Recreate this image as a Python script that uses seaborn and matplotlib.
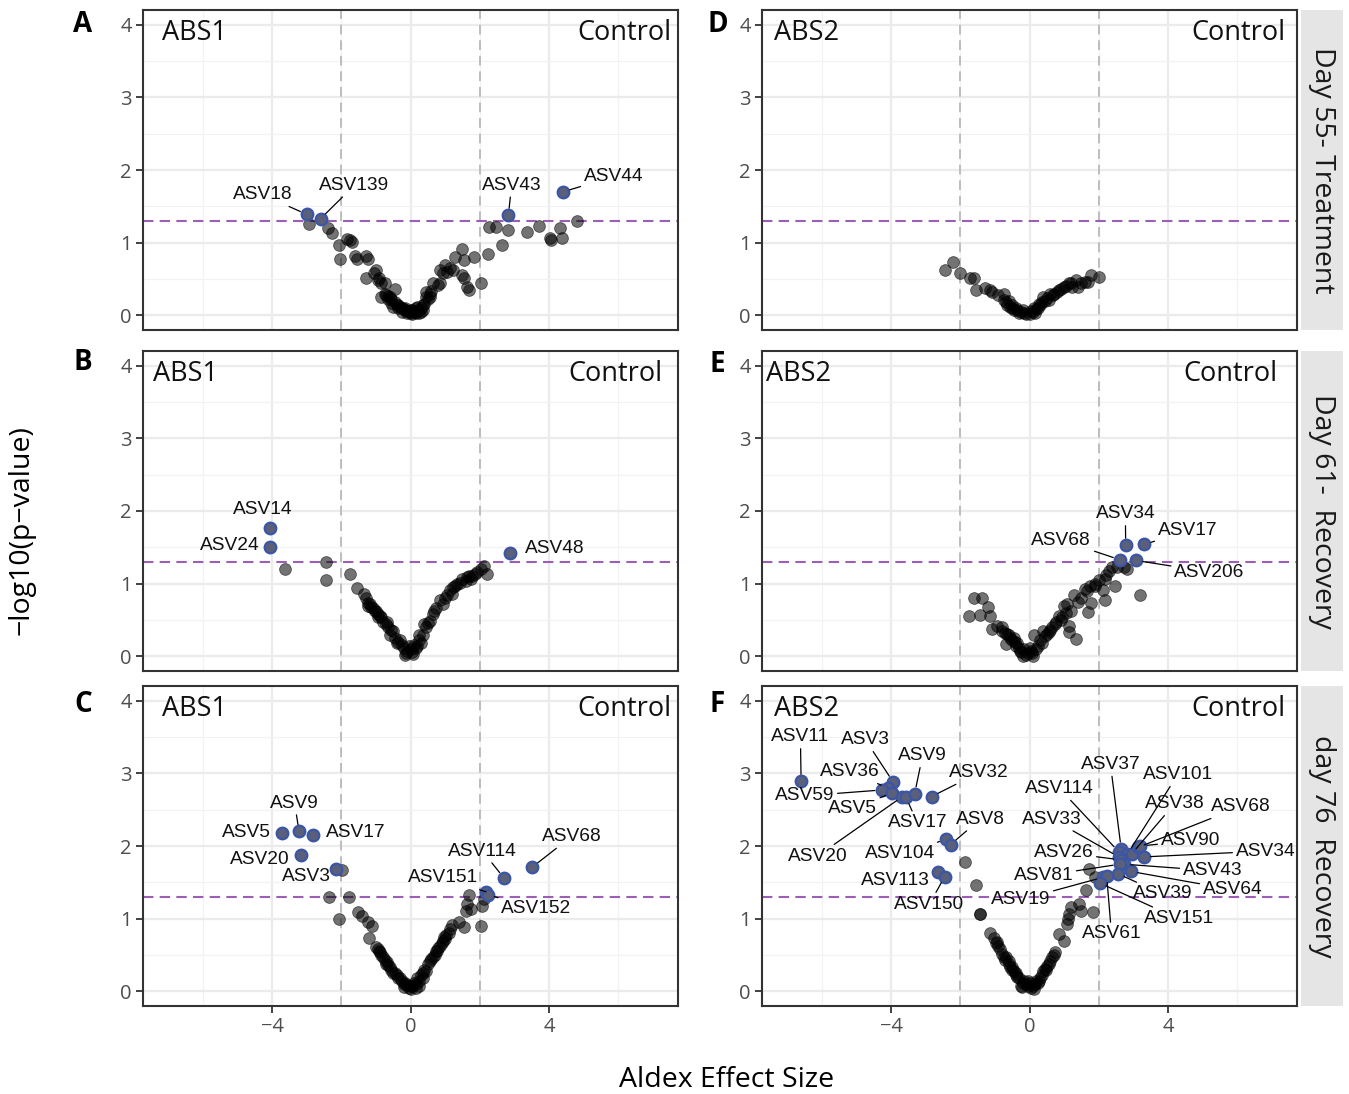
import matplotlib
matplotlib.use("Agg")
import matplotlib.pyplot as plt
import seaborn as sns
import pandas as pd

# ---- data: (effect size, -log10 p) ----
A_gray = [(-2.93, 1.26), (-2.38, 1.20), (-2.28, 1.13), (-2.08, 0.97), (-2.03, 0.77), (-1.84, 1.05),
          (-1.74, 1.04), (-1.69, 1.01), (-1.59, 0.82), (-1.54, 0.78), (-1.29, 0.82), (-1.24, 0.77),
          (-1.29, 0.51), (-0.99, 0.62), (-0.94, 0.49), (-0.84, 0.44), (-0.74, 0.44), (-0.45, 0.37),
          (-0.84, 0.26), (-0.64, 0.23), (-0.55, 0.17), (-0.40, 0.14), (-0.25, 0.10), (-0.15, 0.07),
          (-0.05, 0.05), (0.05, 0.07), (0.15, 0.10), (0.25, 0.07), (0.35, 0.14), (0.45, 0.26),
          (0.55, 0.30), (0.64, 0.44), (0.79, 0.42), (0.84, 0.44), (0.99, 0.69), (1.14, 0.65),
          (1.24, 0.62), (1.29, 0.81), (1.49, 0.92), (1.54, 0.76), (1.49, 0.56), (1.54, 0.51),
          (1.64, 0.39), (1.69, 0.35), (1.84, 0.81), (2.03, 0.44), (2.23, 0.85), (2.28, 1.22),
          (2.48, 1.22), (2.63, 0.97), (2.83, 1.18), (3.37, 1.15), (3.72, 1.23), (4.02, 1.07),
          (4.07, 1.04), (4.32, 1.20), (4.37, 1.07), (4.81, 1.30), (-0.75, 0.30), (-0.65, 0.27),
          (-0.55, 0.22), (-0.45, 0.19), (-0.35, 0.15), (-0.30, 0.12), (-0.20, 0.09), (-0.10, 0.06),
          (0.00, 0.03), (0.10, 0.05), (0.20, 0.06), (0.30, 0.10), (0.40, 0.16), (0.50, 0.22),
          (-0.50, 0.12), (-0.25, 0.05), (0.05, 0.02), (0.15, 0.03), (0.30, 0.05), (0.45, 0.32),
          (-0.15, 0.10), (0.20, 0.12), (-0.70, 0.28), (-0.60, 0.25), (-0.35, 0.10), (-0.10, 0.03),
          (0.00, 0.08), (0.25, 0.03), (0.35, 0.08), (0.55, 0.25), (0.60, 0.33), (0.85, 0.62),
          (0.95, 0.58), (1.05, 0.60), (-1.05, 0.58), (-0.90, 0.52)]
A_hits = [("ASV18", -3.00, 1.39), ("ASV139", -2.60, 1.33), ("ASV43", 2.83, 1.38), ("ASV44", 4.41, 1.70)]

B_gray = [(-3.64, 1.20), (-2.43, 1.30), (-2.45, 1.05), (-1.74, 1.14), (-1.54, 0.94), (-1.29, 0.81),
          (-1.24, 0.74), (-1.14, 0.68), (-1.04, 0.63), (-0.94, 0.58), (-0.84, 0.54), (-0.69, 0.47),
          (-0.64, 0.40), (-0.50, 0.35), (-0.45, 0.26), (-0.30, 0.22), (-0.20, 0.12), (-0.10, 0.08),
          (-0.15, 0.02), (0.05, 0.06), (0.15, 0.12), (0.25, 0.22), (0.35, 0.30), (0.45, 0.40),
          (0.55, 0.49), (0.69, 0.63), (0.84, 0.77), (0.99, 0.81), (1.14, 0.91), (1.24, 0.95),
          (1.34, 1.00), (1.49, 1.07), (1.64, 1.09), (1.79, 1.11), (2.03, 1.20), (2.13, 1.25),
          (2.21, 1.14), (-1.24, 0.69), (-1.09, 0.66), (-0.94, 0.54), (-0.79, 0.47), (-0.60, 0.30),
          (-0.40, 0.19), (-0.25, 0.16), (0.10, 0.16), (0.25, 0.30), (0.40, 0.44), (0.64, 0.59),
          (0.94, 0.72), (1.19, 0.86), (1.44, 1.01), (1.59, 1.04), (1.74, 1.06), (1.93, 1.16),
          (-1.35, 0.86), (-0.55, 0.37), (0.00, 0.10), (0.30, 0.18), (-0.05, 0.15), (-1.18, 0.72),
          (-1.00, 0.62), (-0.88, 0.56), (-0.72, 0.44), (-0.35, 0.20), (-0.12, 0.05), (0.08, 0.03),
          (0.20, 0.14), (0.50, 0.46), (0.75, 0.66), (1.05, 0.85), (1.30, 0.97), (1.70, 1.10),
          (1.85, 1.14)]
B_hits = [("ASV14", -4.06, 1.77), ("ASV24", -4.06, 1.51), ("ASV48", 2.88, 1.42)]

C_gray = [(-1.98, 1.67), (-2.35, 1.30), (-1.79, 1.30), (-2.06, 1.00), (-1.52, 1.09), (-1.39, 1.04),
          (-1.24, 0.95), (-1.12, 0.90), (-1.19, 0.74), (-0.99, 0.61), (-0.89, 0.54), (-0.79, 0.47),
          (-0.69, 0.40), (-0.60, 0.33), (-0.45, 0.26), (-0.30, 0.19), (-0.15, 0.12), (0.00, 0.08),
          (0.15, 0.10), (0.25, 0.15), (0.35, 0.19), (0.45, 0.28), (0.50, 0.38), (0.64, 0.47),
          (0.74, 0.56), (0.84, 0.63), (0.94, 0.70), (1.04, 0.77), (1.14, 0.86), (1.19, 0.91),
          (1.39, 0.95), (1.54, 0.88), (1.59, 1.11), (1.69, 1.32), (1.64, 1.20), (1.74, 1.13),
          (2.03, 0.90), (2.08, 1.18), (2.13, 1.27), (-0.95, 0.58), (-0.85, 0.50), (-0.75, 0.43),
          (-0.65, 0.36), (-0.55, 0.30), (-0.40, 0.22), (-0.25, 0.15), (-0.10, 0.09), (0.05, 0.07),
          (0.10, 0.12), (0.20, 0.18), (0.30, 0.22), (0.40, 0.30), (0.55, 0.42), (0.70, 0.50),
          (0.80, 0.60), (0.90, 0.66), (1.00, 0.72), (1.10, 0.80), (-0.20, 0.10), (0.15, 0.05),
          (-0.05, 0.05), (-0.92, 0.55), (-0.70, 0.38), (-0.50, 0.26), (-0.35, 0.18), (-0.18, 0.06),
          (0.02, 0.03), (0.25, 0.08), (0.35, 0.25), (0.60, 0.45), (0.78, 0.55), (0.98, 0.75)]
C_hits = [("ASV5", -3.72, 2.18), ("ASV9", -3.22, 2.20), ("ASV17", -2.81, 2.15), ("ASV20", -3.15, 1.88),
          ("ASV3", -2.16, 1.69), ("ASV114", 2.70, 1.56), ("ASV68", 3.52, 1.71), ("ASV151", 2.18, 1.37),
          ("ASV152", 2.23, 1.33)]

D_gray = [(-2.45, 0.62), (-2.20, 0.74), (-2.00, 0.58), (-1.72, 0.52), (-1.59, 0.51), (-1.56, 0.35),
          (-1.29, 0.38), (-1.14, 0.35), (-1.09, 0.32), (-0.74, 0.30), (-0.74, 0.21), (-0.64, 0.14),
          (-0.55, 0.12), (-0.45, 0.07), (-0.35, 0.07), (-0.25, 0.05), (-0.10, 0.02), (0.00, 0.02),
          (0.10, 0.05), (0.20, 0.09), (0.30, 0.14), (0.40, 0.25), (0.55, 0.21), (0.60, 0.30),
          (0.69, 0.28), (0.84, 0.35), (0.99, 0.39), (1.14, 0.44), (1.24, 0.39), (1.34, 0.49),
          (1.39, 0.39), (1.59, 0.46), (1.69, 0.46), (1.79, 0.56), (2.01, 0.53), (-0.90, 0.28),
          (-0.60, 0.20), (-0.50, 0.15), (-0.40, 0.10), (-0.20, 0.08), (0.15, 0.04), (0.25, 0.10),
          (0.35, 0.18), (0.45, 0.20), (0.70, 0.30), (0.90, 0.36), (1.05, 0.40), (-0.30, 0.04),
          (0.05, 0.06), (-0.68, 0.18), (-0.52, 0.10), (-0.15, 0.04), (0.12, 0.10), (0.28, 0.16),
          (0.50, 0.24), (0.80, 0.32), (1.20, 0.45), (1.48, 0.45)]
D_hits = []

E_gray = [(3.20, 0.85), (-1.59, 0.80), (-1.36, 0.80), (-1.74, 0.56), (-1.44, 0.57), (-1.19, 0.68),
          (-1.14, 0.56), (-1.09, 0.38), (-0.94, 0.42), (-0.79, 0.40), (-0.69, 0.17), (-0.64, 0.31),
          (-0.45, 0.26), (-0.35, 0.19), (-0.20, 0.01), (-0.15, 0.10), (0.00, 0.12), (0.10, 0.01),
          (0.13, 0.30), (0.25, 0.14), (0.40, 0.35), (0.50, 0.31), (0.64, 0.40), (0.74, 0.45),
          (0.84, 0.56), (0.94, 0.54), (0.99, 0.70), (1.09, 0.72), (1.14, 0.42), (1.14, 0.33),
          (1.29, 0.84), (1.34, 0.24), (1.59, 0.93), (1.69, 0.61), (1.74, 0.97), (1.79, 0.74),
          (1.88, 0.97), (2.13, 0.91), (2.18, 1.07), (2.18, 0.78), (2.48, 0.97), (2.38, 1.23),
          (2.53, 1.23), (2.73, 1.23), (2.83, 1.20), (-0.60, 0.30), (-0.50, 0.22), (-0.40, 0.15),
          (-0.30, 0.12), (-0.25, 0.06), (-0.05, 0.05), (0.05, 0.08), (0.20, 0.10), (0.30, 0.22),
          (0.45, 0.28), (0.60, 0.36), (0.90, 0.50), (1.20, 0.62), (1.50, 0.80), (1.65, 0.90),
          (2.00, 1.05), (2.20, 1.12), (2.30, 1.18), (-0.80, 0.35), (-0.70, 0.32), (-0.55, 0.26),
          (-0.42, 0.20), (-0.28, 0.08), (-0.10, 0.02), (0.08, 0.05), (0.35, 0.18), (0.55, 0.33),
          (0.78, 0.48), (1.05, 0.60), (1.40, 0.75), (1.90, 1.00)]
E_hits = [("ASV34", 2.78, 1.53), ("ASV17", 3.32, 1.54), ("ASV68", 2.61, 1.33), ("ASV206", 3.08, 1.32)]

F_gray = [(-1.86, 1.78), (-1.56, 1.47), (-1.44, 1.07), (-1.42, 1.06), (-1.14, 0.81), (-1.04, 0.74),
          (-0.94, 0.68), (-0.84, 0.58), (-0.79, 0.51), (-0.69, 0.47), (-0.60, 0.42), (-0.50, 0.33),
          (-0.40, 0.26), (-0.30, 0.19), (-0.25, 0.08), (-0.15, 0.15), (0.00, 0.12), (0.10, 0.08),
          (0.20, 0.15), (0.35, 0.22), (0.45, 0.31), (0.55, 0.38), (0.64, 0.47), (0.74, 0.54),
          (0.84, 0.79), (0.99, 0.70), (1.09, 0.93), (1.14, 1.07), (1.19, 1.16), (1.44, 1.20),
          (1.49, 1.11), (1.64, 1.39), (1.72, 1.69), (1.84, 1.09), (1.88, 1.57), (-0.70, 0.43),
          (-0.60, 0.38), (-0.55, 0.33), (-0.45, 0.28), (-0.35, 0.20), (-0.20, 0.12), (-0.10, 0.10),
          (0.05, 0.05), (0.15, 0.10), (0.25, 0.12), (0.40, 0.28), (0.50, 0.35), (0.60, 0.42),
          (-0.90, 0.62), (0.30, 0.18), (-0.05, 0.15), (-0.98, 0.66), (-0.75, 0.47), (-0.52, 0.30),
          (-0.38, 0.22), (-0.22, 0.06), (-0.05, 0.08), (0.12, 0.04), (0.28, 0.15), (0.48, 0.30),
          (0.70, 0.50), (1.12, 1.00)]
F_hits = [("ASV11", -6.60, 2.89), ("ASV3", -3.94, 2.88), ("ASV36", -4.10, 2.80), ("ASV59", -4.27, 2.77),
          ("ASV5", -3.97, 2.73), ("ASV20", -3.67, 2.68), ("ASV17", -3.57, 2.67), ("ASV9", -3.32, 2.72),
          ("ASV32", -2.83, 2.68), ("ASV104", -2.41, 2.09), ("ASV8", -2.28, 2.02), ("ASV113", -2.63, 1.64),
          ("ASV150", -2.45, 1.58), ("ASV37", 2.65, 1.96), ("ASV114", 2.58, 1.92), ("ASV101", 2.83, 1.89),
          ("ASV38", 2.95, 1.89), ("ASV68", 3.13, 1.98), ("ASV90", 3.20, 2.00), ("ASV34", 3.30, 1.85),
          ("ASV33", 2.58, 1.85), ("ASV26", 2.63, 1.81), ("ASV43", 2.73, 1.75), ("ASV81", 2.61, 1.75),
          ("ASV64", 2.93, 1.65), ("ASV39", 2.55, 1.62), ("ASV19", 2.13, 1.57), ("ASV61", 2.23, 1.59),
          ("ASV151", 2.03, 1.49)]

GROUPS = ["ABS1", "ABS1", "ABS1", "ABS2", "ABS2", "ABS2"]
DAYS = ["Day 55- Treatment", "Day 61-  Recovery", "day 76  Recovery"]
P_CUT = 1.301  # -log10(0.05)
EFFECT_CUT = 2

# ---- layout of the repelled labels (where the text sits) ----
LABEL_XY = {
    "A": {"ASV18": (-4.27, 1.66), "ASV139": (-1.62, 1.79), "ASV43": (2.92, 1.79), "ASV44": (5.87, 1.91)},
    "B": {"ASV14": (-4.28, 2.02), "ASV24": (-5.23, 1.52), "ASV48": (4.16, 1.48)},
    "C": {"ASV9": (-3.35, 2.59), "ASV5": (-4.74, 2.19), "ASV17": (-1.59, 2.19), "ASV20": (-4.36, 1.82),
          "ASV3": (-3.0, 1.58), "ASV114": (2.08, 1.93), "ASV68": (4.65, 2.13), "ASV151": (0.95, 1.56),
          "ASV152": (3.64, 1.14)},
    "D": {},
    "E": {"ASV34": (2.77, 1.96), "ASV17": (4.57, 1.73), "ASV68": (0.92, 1.60), "ASV206": (5.2, 1.16)},
    "F": {"ASV11": (-6.62, 3.50), "ASV3": (-4.74, 3.46), "ASV9": (-3.09, 3.24), "ASV36": (-5.20, 3.02),
          "ASV32": (-1.45, 3.01), "ASV59": (-6.50, 2.69), "ASV5": (-5.12, 2.51), "ASV17": (-3.24, 2.32),
          "ASV8": (-1.42, 2.37), "ASV20": (-6.13, 1.86), "ASV104": (-3.73, 1.89), "ASV113": (-3.87, 1.53),
          "ASV150": (-2.89, 1.20), "ASV37": (2.34, 3.12), "ASV101": (4.28, 2.98), "ASV114": (0.87, 2.79),
          "ASV38": (4.19, 2.58), "ASV68": (6.10, 2.54), "ASV33": (0.66, 2.37), "ASV90": (4.65, 2.07),
          "ASV26": (0.98, 1.91), "ASV34": (6.82, 1.93), "ASV81": (0.40, 1.59), "ASV43": (5.29, 1.66),
          "ASV19": (-0.26, 1.26), "ASV39": (3.84, 1.34), "ASV64": (5.87, 1.40), "ASV151": (4.31, 1.00),
          "ASV61": (2.37, 0.79)},
}
NO_SEGMENT = {"B": {"ASV14", "ASV24", "ASV48"}, "C": {"ASV5", "ASV17", "ASV20", "ASV3"}, "F": {"ASV113"}}

sns.set_theme(style="white")
plt.rcParams["font.family"] = ["Open Sans", "DejaVu Sans"]
LABEL_FONT = ["Liberation Sans", "DejaVu Sans"]

W, H = 1349, 1094
fig = plt.figure(figsize=(W / 100, H / 100), dpi=100)


def px_box(x0, y0, x1, y1):
    return [x0 / W, 1 - y1 / H, (x1 - x0) / W, (y1 - y0) / H]


COLS = [(143, 678), (762, 1297)]
ROWS = [(10, 330), (351, 671), (686, 1006)]
panels = [("A", A_gray, A_hits), ("B", B_gray, B_hits), ("C", C_gray, C_hits),
          ("D", D_gray, D_hits), ("E", E_gray, E_hits), ("F", F_gray, F_hits)]
letter_px = {"A": (83, 25), "B": (83, 363), "C": (83, 705),
             "D": (718, 25), "E": (717, 365), "F": (717, 705)}
abs_x = {"A": -6.24, "B": -6.5, "C": -6.24, "D": -6.45, "E": -6.68, "F": -6.45}
ctl_x = {"A": 6.18, "B": 5.92, "C": 6.18, "D": 6.04, "E": 5.81, "F": 6.04}

for i, (key, gray, hits) in enumerate(panels):
    col, row = i // 3, i % 3
    x0, x1 = COLS[col]
    y0, y1 = ROWS[row]
    ax = fig.add_axes(px_box(x0, y0, x1, y1))

    hit_df = pd.DataFrame(hits, columns=["asv", "effect", "logp"])
    all_df = pd.DataFrame(gray, columns=["effect", "logp"])
    all_df = pd.concat([all_df, hit_df[["effect", "logp"]]], ignore_index=True)

    ax.axvline(-EFFECT_CUT, color="#BDBDBD", lw=1.4, ls=(0, (5, 3)), zorder=1)
    ax.axvline(EFFECT_CUT, color="#BDBDBD", lw=1.4, ls=(0, (5, 3)), zorder=1)
    ax.axhline(P_CUT, color="#9B5FB5", lw=1.5, ls=(0, (5, 3)), zorder=1.5)

    sns.scatterplot(data=all_df, x="effect", y="logp", ax=ax, color="black", alpha=0.55,
                    s=72, edgecolor="black", linewidth=0.6, zorder=2, legend=False)
    if len(hit_df):
        sns.scatterplot(data=hit_df, x="effect", y="logp", ax=ax, color="#5a6079",
                        s=70, edgecolor="#3b56a6", linewidth=1.6, zorder=3, legend=False)
        skip = NO_SEGMENT.get(key, set())
        for _, r in hit_df.iterrows():
            lx, ly = LABEL_XY[key][r["asv"]]
            arrow = None if r["asv"] in skip else dict(arrowstyle="-", color="black", lw=0.9,
                                                        shrinkA=0, shrinkB=5)
            ax.annotate(r["asv"], xy=(r["effect"], r["logp"]), xytext=(lx, ly),
                        ha="center", va="center", fontsize=13.8, family=LABEL_FONT,
                        color="#111111", arrowprops=arrow, zorder=4)

    ax.text(abs_x[key], 3.88, GROUPS[i], ha="center", va="center", fontsize=19.5, color="#111111")
    ax.text(ctl_x[key], 3.88, "Control", ha="center", va="center", fontsize=19.5, color="#111111")

    ax.set_xlim(-7.73, 7.73)
    ax.set_ylim(-0.2, 4.2)
    ax.set_xticks([-4, 0, 4])
    ax.set_xticklabels(["\u22124", "0", "4"])
    ax.set_xticks([-6, -2, 2, 6], minor=True)
    ax.set_yticks([0, 1, 2, 3, 4])
    ax.set_yticks([0.5, 1.5, 2.5, 3.5], minor=True)
    ax.grid(which="major", color="#EBEBEB", lw=1.6)
    ax.grid(which="minor", color="#F2F2F2", lw=0.9)
    ax.set_axisbelow(True)
    ax.set(xlabel="", ylabel="")
    ax.tick_params(which="major", length=5, width=1.3, color="#333333", labelsize=14.5,
                   labelcolor="#4D4D4D", pad=3, left=True, bottom=True)
    ax.tick_params(which="minor", length=0)
    if row < 2:
        ax.tick_params(axis="x", which="major", length=0, labelbottom=False)
    for sp in ax.spines.values():
        sp.set_color("#333333")
        sp.set_linewidth(1.5)

    lx_px, ly_px = letter_px[key]
    fig.text(lx_px / W, 1 - ly_px / H, key, ha="center", va="center", fontsize=20,
             fontweight="bold", color="black")

    if col == 1:
        sax = fig.add_axes(px_box(1301, y0, 1343, y1))
        sax.set_facecolor("#E5E5E5")
        sax.set_xticks([])
        sax.set_yticks([])
        for sp in sax.spines.values():
            sp.set_visible(False)
        sax.text(0.5, 0.5, DAYS[row], rotation=-90, ha="center", va="center",
                 fontsize=20.5, color="#1A1A1A", transform=sax.transAxes)

fig.text(727 / W, 1 - 1080 / H, "Aldex Effect Size", ha="center", va="center", fontsize=20.5, color="black")
fig.text(22 / W, 1 - 530 / H, "\u2212log10(p\u2212value)", ha="center", va="center", rotation=90,
         fontsize=20.5, color="black")

fig.savefig("out.png", dpi=100)
